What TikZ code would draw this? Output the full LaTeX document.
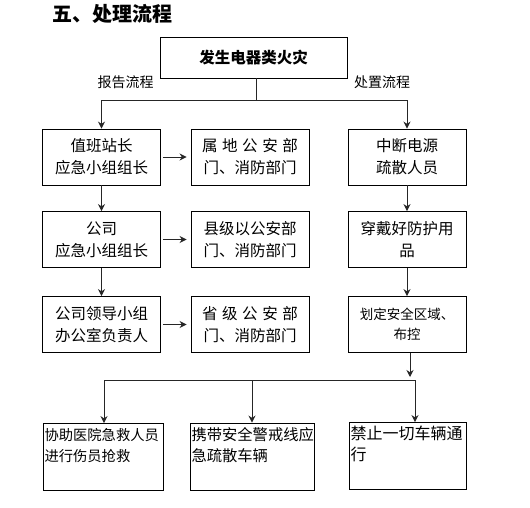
\documentclass[tikz,border=0pt]{standalone}
\usepackage{fontspec}
\setmainfont{Noto Sans CJK SC}
\usetikzlibrary{arrows.meta,positioning,calc}

\begin{document}
\begin{tikzpicture}[x=1pt,y=-1pt,
    box/.style={draw,line width=0.9pt,minimum width=118pt,minimum height=56pt,inner sep=1pt,align=center,font=\fontsize{15.5}{22}\selectfont},
    lowbox/.style={draw,line width=0.9pt,text width=#1,inner xsep=1.5pt,inner ysep=3pt,text height=14pt,text depth=47pt,align=left},
    link/.style={-{Stealth[length=7pt,width=7pt]},line width=0.9pt,black!85},
    bar/.style={line width=0.9pt,black!85}]
    \useasboundingbox (0,0) rectangle (530,507);

    \node[anchor=west,inner sep=0pt,font=\fontsize{20}{20}\selectfont\bfseries] (title) at (52,14) {五、处理流程};
    \node[box,minimum width=187pt,minimum height=41pt,font=\fontsize{15.5}{22}\selectfont\bfseries] (fire) at (253.5,57.5) {发生电器类火灾};
    \node[font=\fontsize{14}{14}\selectfont] (report) at (125.5,82) {报告流程};
    \node[font=\fontsize{14}{14}\selectfont] (dispose) at (382,82) {处置流程};

    \node[box] (l1) at (101.5,157) {值班站长\\应急小组组长};
    \node[box] (m1) at (250,157) {\makebox[96pt][s]{属 地 公 安 部}\\门、消防部门};
    \node[box] (r1) at (407,157) {中断电源\\疏散人员};
    \node[box] (l2) at (101.5,239.5) {公司\\应急小组组长};
    \node[box] (m2) at (250,239.5) {县级以公安部\\门、消防部门};
    \node[box] (r2) at (407,239.5) {穿戴好防护用\\品};
    \node[box] (l3) at (101.5,324.5) {公司领导小组\\办公室负责人};
    \node[box] (m3) at (250,324.5) {\makebox[96pt][s]{省 级 公 安 部}\\门、消防部门};
    \node[box,font=\fontsize{13.5}{20}\selectfont] (r3) at (407,324.5) {划定安全区域、\\布控};

    \node[lowbox=117pt,font=\fontsize{14.3}{21}\selectfont] (b1) at (103,457) {协助医院急救人员\\进行伤员抢救};
    \node[lowbox=121pt,font=\fontsize{15.3}{21}\selectfont] (b2) at (252,456.5) {携带安全警戒线应\\急疏散车辆};
    \node[lowbox=114pt,font=\fontsize{16}{21}\selectfont] (b3) at (407.5,456) {禁止一切车辆通\\行};

    \coordinate (split) at (256,100);
    \draw[bar] (fire.south -| split) -- (split);
    \draw[link] (split) -| (l1.north);
    \draw[link] (split) -| (r1.north);

    \draw[link] (l1) -- (l2);
    \draw[link] (l2) -- (l3);
    \draw[link] (r1) -- (r2);
    \draw[link] (r2) -- (r3);
    \draw[link,shorten <=2pt,shorten >=4pt] (l1) -- (m1);
    \draw[link,shorten <=2pt,shorten >=4pt] (l2) -- (m2);
    \draw[link,shorten <=2pt,shorten >=4pt] (l3) -- (m3);

    \coordinate (hub) at (410,377);
    \coordinate (busL) at (104,380);
    \coordinate (busR) at (415,380);
    \draw[link] (r3.south -| hub) -- (hub);
    \draw[bar] (busL) -- (busR);
    \draw[link] (busL) -- (busL |- b1.north);
    \draw[link] (b2.north |- busL) -- (b2.north);
    \draw[link] (busR) -- (busR |- b3.north);
\end{tikzpicture}
\end{document}
